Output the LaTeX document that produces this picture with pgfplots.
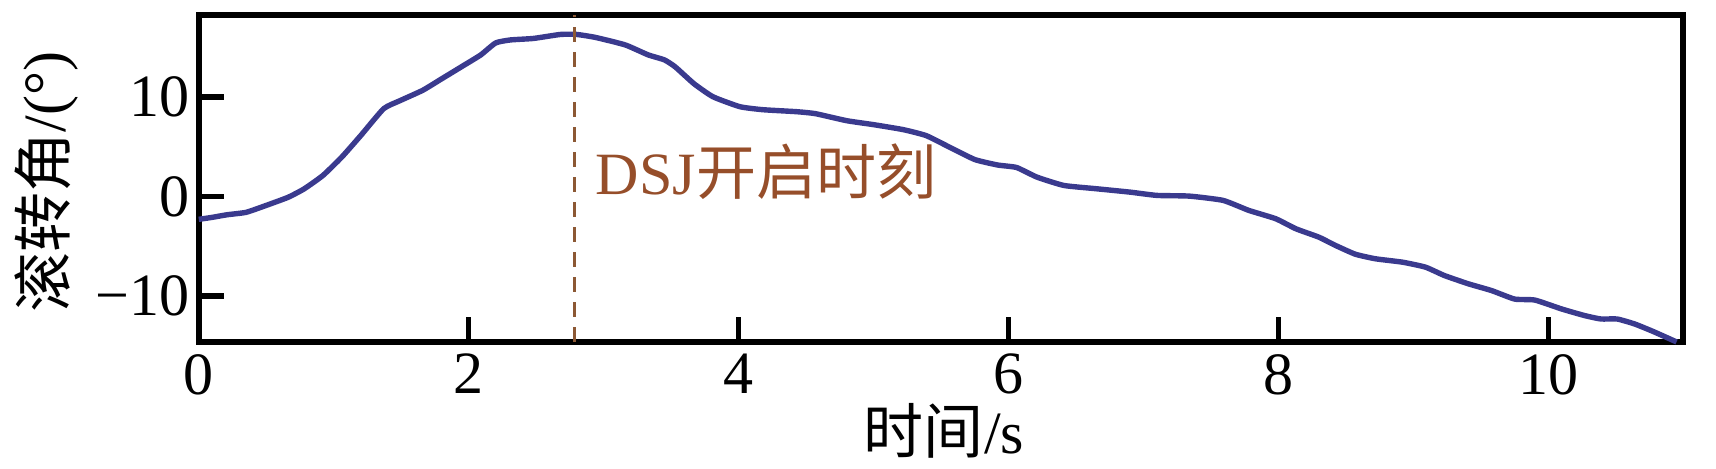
\documentclass[border=0pt]{standalone}
\usepackage{fontspec}
\setmainfont{Liberation Serif}
\newfontfamily\cjk{Noto Sans CJK SC}
\usepackage{pgfplots}
\pgfplotsset{compat=1.18}
\usetikzlibrary{calc}

\definecolor{rollblue}{RGB}{58,58,142}
\definecolor{dsjbrown}{RGB}{140,88,52}
\definecolor{dsjtext}{RGB}{150,78,42}
\newcommand\bigf{\fontsize{30}{36}\selectfont}

\begin{document}
\begin{tikzpicture}
\begin{axis}[
  scale only axis,
  width=742pt, height=163.4pt,
  xmin=0, xmax=11,
  ymin=-14.6, ymax=18.2,
  xtick={0,2,4,6,8,10},
  ytick={-10,0,10},
  yticklabels={−10,0,10},
  tick align=inside,
  xtick pos=bottom, ytick pos=left,
  major tick length=12.5pt,
  axis line style={line width=2.8pt},
  every tick/.style={black, line width=2.8pt},
  tick label style={font=\bigf},
  /pgf/number format/assume math mode=true,
  xticklabel shift=2.6pt,
  yticklabel shift=1.3pt,
  xlabel={{\cjk 时间}/s},
  ylabel={{\cjk 滚转角}/(°)},
  label style={font=\bigf},
  xlabel style={at={(axis description cs:0.502,-0.272)}, anchor=center, inner sep=0pt},
  ylabel style={at={(axis description cs:-0.1026,0.49)}, anchor=center, inner sep=0pt},
  clip=false,
]
\addplot[rollblue, line width=2.7pt, line join=round, smooth, tension=0.3] table {
0    -2.3
0.10 -2.1
0.21 -1.84
0.35 -1.6
0.49 -0.95
0.66 -0.1
0.78 0.75
0.92 2.1
1.06 3.95
1.20 6.1
1.37 8.8
1.49 9.6
1.66 10.65
1.80 11.8
1.97 13.2
2.09 14.2
2.20 15.4
2.31 15.7
2.48 15.85
2.68 16.25
2.80 16.25
2.94 15.95
3.16 15.2
3.33 14.2
3.45 13.7
3.53 13.0
3.67 11.3
3.81 10.0
4.01 9.0
4.18 8.7
4.43 8.5
4.57 8.3
4.80 7.6
5.00 7.2
5.22 6.7
5.39 6.1
5.56 4.96
5.75 3.7
5.92 3.15
6.06 2.9
6.21 1.94
6.41 1.1
6.65 0.77
6.90 0.43
7.10 0.1
7.34 0.03
7.59 -0.4
7.78 -1.4
7.98 -2.24
8.13 -3.25
8.30 -4.09
8.42 -4.9
8.57 -5.8
8.72 -6.26
8.92 -6.6
9.09 -7.1
9.23 -7.94
9.41 -8.78
9.58 -9.45
9.75 -10.3
9.90 -10.4
10.10 -11.3
10.27 -11.96
10.39 -12.3
10.51 -12.3
10.64 -12.8
10.78 -13.57
10.95 -14.6
};
% DSJ switch-on moment
\addplot[dsjbrown, line width=1.3pt, dash pattern=on 7.5pt off 5pt] coordinates {(2.785,-14.6) (2.785,18.2)};
\node[anchor=west, inner sep=0pt, text=dsjtext, font=\bigf] at (axis cs:2.94,2.46) {DSJ{\cjk 开启时刻}};
\end{axis}
\pgfresetboundingbox
\path ($(current axis.south west)+(-99.35pt,-63.15pt)$) rectangle ($(current axis.north east)+(16.35pt,7.5pt)$);
\end{tikzpicture}
\end{document}
